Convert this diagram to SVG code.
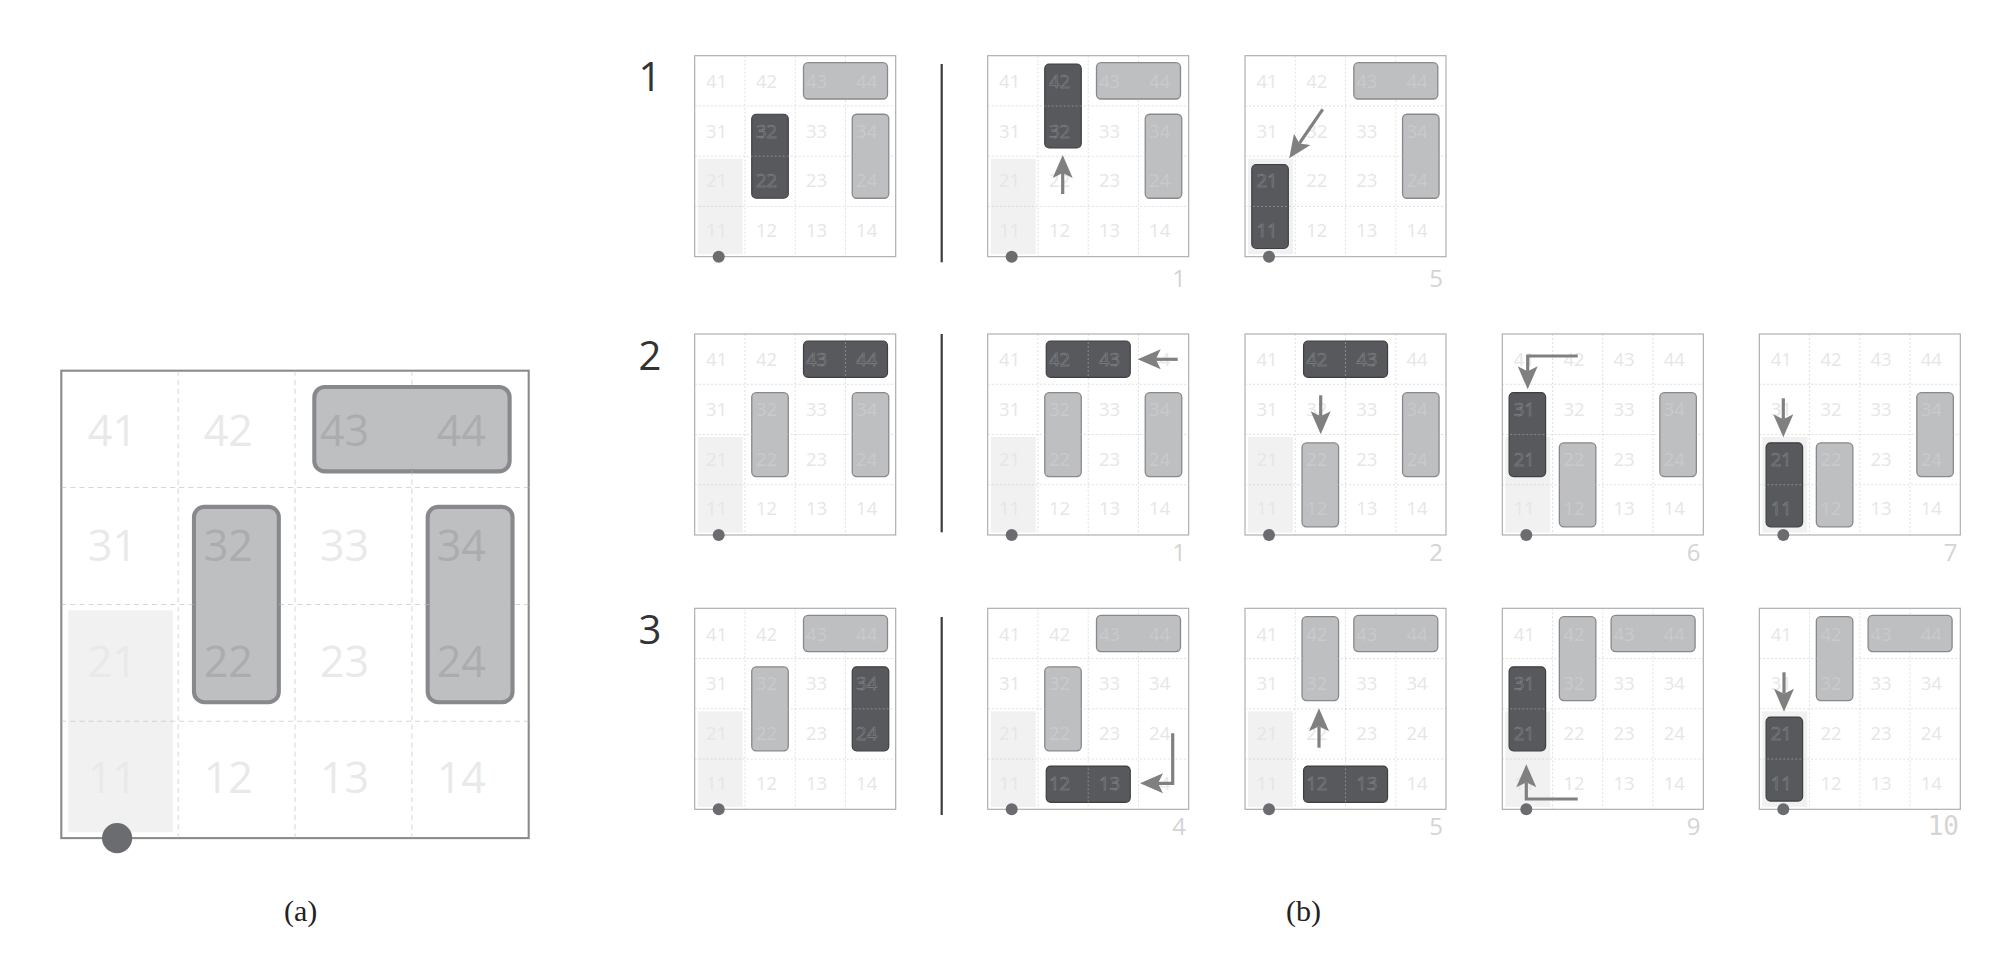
<svg xmlns="http://www.w3.org/2000/svg" width="1997" height="955" viewBox="0 0 1997 955">
<style>
.bd{fill:#fff;stroke:#a9a9a9;stroke-width:1.1}
.sh{fill:#f0f1f0}
.g{fill:#bebfc1;stroke:#88898c;stroke-width:1.3}
.d{fill:#58595d;stroke:#3e3f42;stroke-width:1.2}
.dl{fill:none;stroke:#bdbdbd;stroke-opacity:.6;stroke-width:.8;stroke-dasharray:2 2}
.n{font-family:"Open Sans","Liberation Sans",sans-serif;font-size:18.5px;text-anchor:middle}
.t{fill:#e6e6e6}
.tg{fill:#c9cacc}
.td{fill:none;stroke:#929396;stroke-width:.4}
.dot{fill:#6b6c70}
#a .bd{stroke:#8a8a8a;stroke-width:.9}
#a .g{stroke-width:1.75}
#a .dl{stroke-width:.45;stroke-dasharray:2.2 1.7}
#a .tg{fill:#abacae}
#a .t{fill:#e9e9e9}
.ar{fill:none;stroke:#808080;stroke-width:3.2;stroke-linejoin:miter}
.rl{font-family:"Open Sans","Liberation Sans",sans-serif;font-size:40px;fill:#333;text-anchor:middle}
.st{font-family:"Open Sans","Liberation Sans",sans-serif;font-size:24px;fill:#d4d4d4;text-anchor:end}
.stm{font-family:"DejaVu Sans Mono","Liberation Mono",monospace;font-size:26px;fill:#d4d4d4;text-anchor:end}
.cap{font-family:"Liberation Serif",serif;font-size:30px;fill:#222;text-anchor:middle}
.sep{stroke:#3c3c3c;stroke-width:2.2}
</style>
<defs>
<marker id="ah" markerUnits="userSpaceOnUse" markerWidth="30" markerHeight="24" refX="5" refY="10" orient="auto" overflow="visible">
<path d="M0,0 L23,10 L0,20 L5,10 Z" fill="#808080"/>
</marker>
<path id="gl" d="M50.25,0V201M100.5,0V201M150.75,0V201M0,50.25H201M0,100.5H201M0,150.75H201"/>
</defs>

<!-- (a) big grid -->
<g id="a" transform="translate(61.3,370.7) scale(2.3254)">
<rect class="bd" width="201" height="201"/>
<rect class="sh" x="3" y="103" width="45" height="95.5"/>
<rect class="g" x="108.8" y="7" width="84" height="36.3" rx="4.5"/>
<rect class="g" x="57.05" y="58.55" width="36.5" height="84" rx="4.5"/>
<rect class="g" x="157.55" y="58.55" width="36.5" height="84" rx="4.5"/>
<path class="dl" d="M50.25,0V201M100.5,0V201M150.75,0V201M0,50.25H201M0,100.5H201M0,150.75H201"/>
<text class="n t"><tspan x="22" y="32.3">41</tspan><tspan x="71.8" y="32.3">42</tspan><tspan x="22" y="82">31</tspan><tspan x="121.8" y="82">33</tspan><tspan x="22" y="131.7">21</tspan><tspan x="121.8" y="131.7">23</tspan><tspan x="22" y="181.4">11</tspan><tspan x="71.8" y="181.4">12</tspan><tspan x="121.8" y="181.4">13</tspan><tspan x="172" y="181.4">14</tspan></text>
<text class="n tg"><tspan x="121.8" y="32.3">43</tspan><tspan x="172" y="32.3">44</tspan><tspan x="71.8" y="82">32</tspan><tspan x="172" y="82">34</tspan><tspan x="71.8" y="131.7">22</tspan><tspan x="172" y="131.7">24</tspan></text>
<circle class="dot" cx="24" cy="201" r="6.5"/>
</g>

<!-- row labels and separators -->
<g id="labels">
<text class="rl" x="650" y="91.2">1</text>
<text class="rl" x="650" y="369.5">2</text>
<text class="rl" x="650" y="643.8">3</text>
<line class="sep" x1="941.7" y1="64" x2="941.7" y2="262.3"/>
<line class="sep" x1="941.7" y1="334" x2="941.7" y2="532.3"/>
<line class="sep" x1="941.7" y1="617" x2="941.7" y2="815"/>
</g>

<!-- row 1 -->
<g id="r1c1" transform="translate(694.7,55.7)">
<rect class="bd" width="201" height="201"/>
<rect class="sh" x="3" y="103" width="45" height="95.5"/>
<rect class="g" x="108.8" y="7" width="84" height="36.3" rx="4.5"/>
<rect class="d" x="57.05" y="58.55" width="36.5" height="84" rx="4.5"/>
<rect class="g" x="157.55" y="58.55" width="36.5" height="84" rx="4.5"/>
<use href="#gl" class="dl"/>
<text class="n t"><tspan x="22" y="32.3">41</tspan><tspan x="71.8" y="32.3">42</tspan><tspan x="22" y="82">31</tspan><tspan x="121.8" y="82">33</tspan><tspan x="22" y="131.7">21</tspan><tspan x="121.8" y="131.7">23</tspan><tspan x="22" y="181.4">11</tspan><tspan x="71.8" y="181.4">12</tspan><tspan x="121.8" y="181.4">13</tspan><tspan x="172" y="181.4">14</tspan></text>
<text class="n tg"><tspan x="121.8" y="32.3">43</tspan><tspan x="172" y="32.3">44</tspan><tspan x="172" y="82">34</tspan><tspan x="172" y="131.7">24</tspan></text>
<text class="n td"><tspan x="71.8" y="82">32</tspan><tspan x="71.8" y="131.7">22</tspan></text>
<circle class="dot" cx="24" cy="201" r="6"/>
</g>

<g id="r1c2" transform="translate(987.7,55.7)">
<rect class="bd" width="201" height="201"/>
<rect class="sh" x="3" y="103" width="45" height="95.5"/>
<rect class="d" x="57.05" y="8.3" width="36.5" height="84" rx="4.5"/>
<rect class="g" x="108.8" y="7" width="84" height="36.3" rx="4.5"/>
<rect class="g" x="157.55" y="58.55" width="36.5" height="84" rx="4.5"/>
<use href="#gl" class="dl"/>
<text class="n t"><tspan x="22" y="32.3">41</tspan><tspan x="22" y="82">31</tspan><tspan x="121.8" y="82">33</tspan><tspan x="22" y="131.7">21</tspan><tspan x="71.8" y="131.7">22</tspan><tspan x="121.8" y="131.7">23</tspan><tspan x="22" y="181.4">11</tspan><tspan x="71.8" y="181.4">12</tspan><tspan x="121.8" y="181.4">13</tspan><tspan x="172" y="181.4">14</tspan></text>
<text class="n tg"><tspan x="121.8" y="32.3">43</tspan><tspan x="172" y="32.3">44</tspan><tspan x="172" y="82">34</tspan><tspan x="172" y="131.7">24</tspan></text>
<text class="n td"><tspan x="71.8" y="32.3">42</tspan><tspan x="71.8" y="82">32</tspan></text>
<circle class="dot" cx="24" cy="201" r="6"/>
</g>

<g id="r1c3" transform="translate(1245,55.7)">
<rect class="bd" width="201" height="201"/>
<rect class="sh" x="3" y="103" width="45" height="95.5"/>
<rect class="g" x="108.8" y="7" width="84" height="36.3" rx="4.5"/>
<rect class="g" x="157.55" y="58.55" width="36.5" height="84" rx="4.5"/>
<rect class="d" x="6.8" y="108.8" width="36.5" height="84" rx="4.5"/>
<use href="#gl" class="dl"/>
<text class="n t"><tspan x="22" y="32.3">41</tspan><tspan x="71.8" y="32.3">42</tspan><tspan x="22" y="82">31</tspan><tspan x="71.8" y="82">32</tspan><tspan x="121.8" y="82">33</tspan><tspan x="71.8" y="131.7">22</tspan><tspan x="121.8" y="131.7">23</tspan><tspan x="71.8" y="181.4">12</tspan><tspan x="121.8" y="181.4">13</tspan><tspan x="172" y="181.4">14</tspan></text>
<text class="n tg"><tspan x="121.8" y="32.3">43</tspan><tspan x="172" y="32.3">44</tspan><tspan x="172" y="82">34</tspan><tspan x="172" y="131.7">24</tspan></text>
<text class="n td"><tspan x="22" y="131.7">21</tspan><tspan x="22" y="181.4">11</tspan></text>
<circle class="dot" cx="24" cy="201" r="6"/>
</g>

<!-- row 2 -->
<g id="r2c1" transform="translate(694.7,334)">
<rect class="bd" width="201" height="201"/>
<rect class="sh" x="3" y="103" width="45" height="95.5"/>
<rect class="d" x="108.8" y="7" width="84" height="36.3" rx="4.5"/>
<rect class="g" x="57.05" y="58.55" width="36.5" height="84" rx="4.5"/>
<rect class="g" x="157.55" y="58.55" width="36.5" height="84" rx="4.5"/>
<use href="#gl" class="dl"/>
<text class="n t"><tspan x="22" y="32.3">41</tspan><tspan x="71.8" y="32.3">42</tspan><tspan x="22" y="82">31</tspan><tspan x="121.8" y="82">33</tspan><tspan x="22" y="131.7">21</tspan><tspan x="121.8" y="131.7">23</tspan><tspan x="22" y="181.4">11</tspan><tspan x="71.8" y="181.4">12</tspan><tspan x="121.8" y="181.4">13</tspan><tspan x="172" y="181.4">14</tspan></text>
<text class="n tg"><tspan x="71.8" y="82">32</tspan><tspan x="172" y="82">34</tspan><tspan x="71.8" y="131.7">22</tspan><tspan x="172" y="131.7">24</tspan></text>
<text class="n td"><tspan x="121.8" y="32.3">43</tspan><tspan x="172" y="32.3">44</tspan></text>
<circle class="dot" cx="24" cy="201" r="6"/>
</g>

<g id="r2c2" transform="translate(987.7,334)">
<rect class="bd" width="201" height="201"/>
<rect class="sh" x="3" y="103" width="45" height="95.5"/>
<rect class="d" x="58.55" y="7" width="84" height="36.3" rx="4.5"/>
<rect class="g" x="57.05" y="58.55" width="36.5" height="84" rx="4.5"/>
<rect class="g" x="157.55" y="58.55" width="36.5" height="84" rx="4.5"/>
<use href="#gl" class="dl"/>
<text class="n t"><tspan x="22" y="32.3">41</tspan><tspan x="172" y="32.3">44</tspan><tspan x="22" y="82">31</tspan><tspan x="121.8" y="82">33</tspan><tspan x="22" y="131.7">21</tspan><tspan x="121.8" y="131.7">23</tspan><tspan x="22" y="181.4">11</tspan><tspan x="71.8" y="181.4">12</tspan><tspan x="121.8" y="181.4">13</tspan><tspan x="172" y="181.4">14</tspan></text>
<text class="n tg"><tspan x="71.8" y="82">32</tspan><tspan x="172" y="82">34</tspan><tspan x="71.8" y="131.7">22</tspan><tspan x="172" y="131.7">24</tspan></text>
<text class="n td"><tspan x="71.8" y="32.3">42</tspan><tspan x="121.8" y="32.3">43</tspan></text>
<circle class="dot" cx="24" cy="201" r="6"/>
</g>

<g id="r2c3" transform="translate(1245,334)">
<rect class="bd" width="201" height="201"/>
<rect class="sh" x="3" y="103" width="45" height="95.5"/>
<rect class="d" x="58.55" y="7" width="84" height="36.3" rx="4.5"/>
<rect class="g" x="57.05" y="108.8" width="36.5" height="84" rx="4.5"/>
<rect class="g" x="157.55" y="58.55" width="36.5" height="84" rx="4.5"/>
<use href="#gl" class="dl"/>
<text class="n t"><tspan x="22" y="32.3">41</tspan><tspan x="172" y="32.3">44</tspan><tspan x="22" y="82">31</tspan><tspan x="71.8" y="82">32</tspan><tspan x="121.8" y="82">33</tspan><tspan x="22" y="131.7">21</tspan><tspan x="121.8" y="131.7">23</tspan><tspan x="22" y="181.4">11</tspan><tspan x="121.8" y="181.4">13</tspan><tspan x="172" y="181.4">14</tspan></text>
<text class="n tg"><tspan x="172" y="82">34</tspan><tspan x="71.8" y="131.7">22</tspan><tspan x="172" y="131.7">24</tspan><tspan x="71.8" y="181.4">12</tspan></text>
<text class="n td"><tspan x="71.8" y="32.3">42</tspan><tspan x="121.8" y="32.3">43</tspan></text>
<circle class="dot" cx="24" cy="201" r="6"/>
</g>

<g id="r2c4" transform="translate(1502.3,334)">
<rect class="bd" width="201" height="201"/>
<rect class="sh" x="3" y="103" width="45" height="95.5"/>
<rect class="d" x="6.8" y="58.55" width="36.5" height="84" rx="4.5"/>
<rect class="g" x="57.05" y="108.8" width="36.5" height="84" rx="4.5"/>
<rect class="g" x="157.55" y="58.55" width="36.5" height="84" rx="4.5"/>
<use href="#gl" class="dl"/>
<text class="n t"><tspan x="22" y="32.3">41</tspan><tspan x="71.8" y="32.3">42</tspan><tspan x="121.8" y="32.3">43</tspan><tspan x="172" y="32.3">44</tspan><tspan x="71.8" y="82">32</tspan><tspan x="121.8" y="82">33</tspan><tspan x="121.8" y="131.7">23</tspan><tspan x="22" y="181.4">11</tspan><tspan x="121.8" y="181.4">13</tspan><tspan x="172" y="181.4">14</tspan></text>
<text class="n tg"><tspan x="172" y="82">34</tspan><tspan x="71.8" y="131.7">22</tspan><tspan x="172" y="131.7">24</tspan><tspan x="71.8" y="181.4">12</tspan></text>
<text class="n td"><tspan x="22" y="82">31</tspan><tspan x="22" y="131.7">21</tspan></text>
<circle class="dot" cx="24" cy="201" r="6"/>
</g>

<g id="r2c5" transform="translate(1759.3,334)">
<rect class="bd" width="201" height="201"/>
<rect class="sh" x="3" y="103" width="45" height="95.5"/>
<rect class="d" x="6.8" y="108.8" width="36.5" height="84" rx="4.5"/>
<rect class="g" x="57.05" y="108.8" width="36.5" height="84" rx="4.5"/>
<rect class="g" x="157.55" y="58.55" width="36.5" height="84" rx="4.5"/>
<use href="#gl" class="dl"/>
<text class="n t"><tspan x="22" y="32.3">41</tspan><tspan x="71.8" y="32.3">42</tspan><tspan x="121.8" y="32.3">43</tspan><tspan x="172" y="32.3">44</tspan><tspan x="22" y="82">31</tspan><tspan x="71.8" y="82">32</tspan><tspan x="121.8" y="82">33</tspan><tspan x="121.8" y="131.7">23</tspan><tspan x="121.8" y="181.4">13</tspan><tspan x="172" y="181.4">14</tspan></text>
<text class="n tg"><tspan x="172" y="82">34</tspan><tspan x="71.8" y="131.7">22</tspan><tspan x="172" y="131.7">24</tspan><tspan x="71.8" y="181.4">12</tspan></text>
<text class="n td"><tspan x="22" y="131.7">21</tspan><tspan x="22" y="181.4">11</tspan></text>
<circle class="dot" cx="24" cy="201" r="6"/>
</g>

<!-- row 3 -->
<g id="r3c1" transform="translate(694.7,608.3)">
<rect class="bd" width="201" height="201"/>
<rect class="sh" x="3" y="103" width="45" height="95.5"/>
<rect class="g" x="108.8" y="7" width="84" height="36.3" rx="4.5"/>
<rect class="g" x="57.05" y="58.55" width="36.5" height="84" rx="4.5"/>
<rect class="d" x="157.55" y="58.55" width="36.5" height="84" rx="4.5"/>
<use href="#gl" class="dl"/>
<text class="n t"><tspan x="22" y="32.3">41</tspan><tspan x="71.8" y="32.3">42</tspan><tspan x="22" y="82">31</tspan><tspan x="121.8" y="82">33</tspan><tspan x="22" y="131.7">21</tspan><tspan x="121.8" y="131.7">23</tspan><tspan x="22" y="181.4">11</tspan><tspan x="71.8" y="181.4">12</tspan><tspan x="121.8" y="181.4">13</tspan><tspan x="172" y="181.4">14</tspan></text>
<text class="n tg"><tspan x="121.8" y="32.3">43</tspan><tspan x="172" y="32.3">44</tspan><tspan x="71.8" y="82">32</tspan><tspan x="71.8" y="131.7">22</tspan></text>
<text class="n td"><tspan x="172" y="82">34</tspan><tspan x="172" y="131.7">24</tspan></text>
<circle class="dot" cx="24" cy="201" r="6"/>
</g>

<g id="r3c2" transform="translate(987.7,608.3)">
<rect class="bd" width="201" height="201"/>
<rect class="sh" x="3" y="103" width="45" height="95.5"/>
<rect class="g" x="108.8" y="7" width="84" height="36.3" rx="4.5"/>
<rect class="g" x="57.05" y="58.55" width="36.5" height="84" rx="4.5"/>
<rect class="d" x="58.55" y="157.75" width="84" height="36.3" rx="4.5"/>
<use href="#gl" class="dl"/>
<text class="n t"><tspan x="22" y="32.3">41</tspan><tspan x="71.8" y="32.3">42</tspan><tspan x="22" y="82">31</tspan><tspan x="121.8" y="82">33</tspan><tspan x="172" y="82">34</tspan><tspan x="22" y="131.7">21</tspan><tspan x="121.8" y="131.7">23</tspan><tspan x="172" y="131.7">24</tspan><tspan x="22" y="181.4">11</tspan><tspan x="172" y="181.4">14</tspan></text>
<text class="n tg"><tspan x="121.8" y="32.3">43</tspan><tspan x="172" y="32.3">44</tspan><tspan x="71.8" y="82">32</tspan><tspan x="71.8" y="131.7">22</tspan></text>
<text class="n td"><tspan x="71.8" y="181.4">12</tspan><tspan x="121.8" y="181.4">13</tspan></text>
<circle class="dot" cx="24" cy="201" r="6"/>
</g>

<g id="r3c3" transform="translate(1245,608.3)">
<rect class="bd" width="201" height="201"/>
<rect class="sh" x="3" y="103" width="45" height="95.5"/>
<rect class="g" x="57.05" y="8.3" width="36.5" height="84" rx="4.5"/>
<rect class="g" x="108.8" y="7" width="84" height="36.3" rx="4.5"/>
<rect class="d" x="58.55" y="157.75" width="84" height="36.3" rx="4.5"/>
<use href="#gl" class="dl"/>
<text class="n t"><tspan x="22" y="32.3">41</tspan><tspan x="22" y="82">31</tspan><tspan x="121.8" y="82">33</tspan><tspan x="172" y="82">34</tspan><tspan x="22" y="131.7">21</tspan><tspan x="71.8" y="131.7">22</tspan><tspan x="121.8" y="131.7">23</tspan><tspan x="172" y="131.7">24</tspan><tspan x="22" y="181.4">11</tspan><tspan x="172" y="181.4">14</tspan></text>
<text class="n tg"><tspan x="71.8" y="32.3">42</tspan><tspan x="121.8" y="32.3">43</tspan><tspan x="172" y="32.3">44</tspan><tspan x="71.8" y="82">32</tspan></text>
<text class="n td"><tspan x="71.8" y="181.4">12</tspan><tspan x="121.8" y="181.4">13</tspan></text>
<circle class="dot" cx="24" cy="201" r="6"/>
</g>

<g id="r3c4" transform="translate(1502.3,608.3)">
<rect class="bd" width="201" height="201"/>
<rect class="sh" x="3" y="103" width="45" height="95.5"/>
<rect class="g" x="57.05" y="8.3" width="36.5" height="84" rx="4.5"/>
<rect class="g" x="108.8" y="7" width="84" height="36.3" rx="4.5"/>
<rect class="d" x="6.8" y="58.55" width="36.5" height="84" rx="4.5"/>
<use href="#gl" class="dl"/>
<text class="n t"><tspan x="22" y="32.3">41</tspan><tspan x="121.8" y="82">33</tspan><tspan x="172" y="82">34</tspan><tspan x="71.8" y="131.7">22</tspan><tspan x="121.8" y="131.7">23</tspan><tspan x="172" y="131.7">24</tspan><tspan x="22" y="181.4">11</tspan><tspan x="71.8" y="181.4">12</tspan><tspan x="121.8" y="181.4">13</tspan><tspan x="172" y="181.4">14</tspan></text>
<text class="n tg"><tspan x="71.8" y="32.3">42</tspan><tspan x="121.8" y="32.3">43</tspan><tspan x="172" y="32.3">44</tspan><tspan x="71.8" y="82">32</tspan></text>
<text class="n td"><tspan x="22" y="82">31</tspan><tspan x="22" y="131.7">21</tspan></text>
<circle class="dot" cx="24" cy="201" r="6"/>
</g>

<g id="r3c5" transform="translate(1759.3,608.3)">
<rect class="bd" width="201" height="201"/>
<rect class="sh" x="3" y="103" width="45" height="95.5"/>
<rect class="g" x="57.05" y="8.3" width="36.5" height="84" rx="4.5"/>
<rect class="g" x="108.8" y="7" width="84" height="36.3" rx="4.5"/>
<rect class="d" x="6.8" y="108.8" width="36.5" height="84" rx="4.5"/>
<use href="#gl" class="dl"/>
<text class="n t"><tspan x="22" y="32.3">41</tspan><tspan x="22" y="82">31</tspan><tspan x="121.8" y="82">33</tspan><tspan x="172" y="82">34</tspan><tspan x="71.8" y="131.7">22</tspan><tspan x="121.8" y="131.7">23</tspan><tspan x="172" y="131.7">24</tspan><tspan x="71.8" y="181.4">12</tspan><tspan x="121.8" y="181.4">13</tspan><tspan x="172" y="181.4">14</tspan></text>
<text class="n tg"><tspan x="71.8" y="32.3">42</tspan><tspan x="121.8" y="32.3">43</tspan><tspan x="172" y="32.3">44</tspan><tspan x="71.8" y="82">32</tspan></text>
<text class="n td"><tspan x="22" y="131.7">21</tspan><tspan x="22" y="181.4">11</tspan></text>
<circle class="dot" cx="24" cy="201" r="6"/>
</g>

<!-- step numbers -->
<g id="steps">
<text class="st" x="1186" y="287">1</text>
<text class="st" x="1443" y="287">5</text>
<text class="st" x="1186" y="561">1</text>
<text class="st" x="1443" y="561">2</text>
<text class="st" x="1700.5" y="561">6</text>
<text class="st" x="1957.5" y="561">7</text>
<text class="st" x="1186" y="835">4</text>
<text class="st" x="1443" y="835">5</text>
<text class="st" x="1700.5" y="835">9</text>
<text class="stm" x="1959" y="835">10</text>
</g>

<!-- connectors (move arrows) -->
<g id="connectors">
<path class="ar" marker-end="url(#ah)" d="M1062.7,194 V173"/>
<path class="ar" marker-end="url(#ah)" d="M1322.7,109.3 L1299.4,143.4"/>
<path class="ar" marker-end="url(#ah)" d="M1177.7,359.3 H1155.7"/>
<path class="ar" marker-end="url(#ah)" d="M1320.7,395.3 V416.3"/>
<path class="ar" marker-end="url(#ah)" d="M1577.7,356 H1527.7 V371.3"/>
<path class="ar" marker-end="url(#ah)" d="M1783.3,398.3 V419.3"/>
<path class="ar" marker-end="url(#ah)" d="M1172.7,733.3 V783.3 H1158"/>
<path class="ar" marker-end="url(#ah)" d="M1319,747.7 V726.3"/>
<path class="ar" marker-end="url(#ah)" d="M1577.7,799 H1526.3 V782.3"/>
<path class="ar" marker-end="url(#ah)" d="M1784,672.3 V693.7"/>
</g>

<!-- captions -->
<text class="cap" x="300.6" y="921">(a)</text>
<text class="cap" x="1303.5" y="921">(b)</text>
</svg>
